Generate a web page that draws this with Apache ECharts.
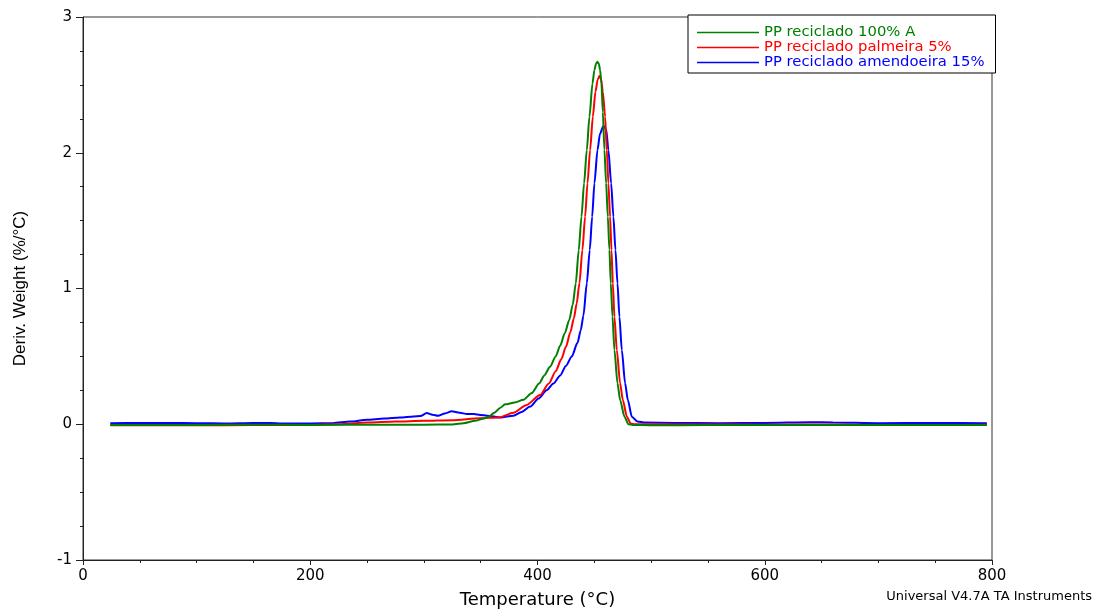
<!DOCTYPE html>
<html>
<head>
<meta charset="utf-8">
<script src="https://cdn.jsdelivr.net/npm/echarts@6/dist/echarts.min.js"></script>
<style>html,body{margin:0;padding:0;background:#fff}#c{width:1096px;height:611px}</style>
</head>
<body>
<div id="c"></div>
<script>
var seriesNames = ['PP reciclado 100% A', 'PP reciclado palmeira 5%', 'PP reciclado amendoeira 15%'];
var seriesColors = ['#008000', '#ff0000', '#0000ff'];

var tempGreen = [24,50,100,150,200,250,300,325,335,345,352,357,362,367,371.5,380,387.6,395,401.4,406,411,416,420,424,428,431,433.7,436.3,438.7,441,443.4,445.7,448.4,450.1,451.5,452.7,454,455.1,456.3,457.5,458.9,460.4,461.9,463.3,464.5,466,467.7,470.4,472.7,476.5,480,484,500,550,600,650,700,750,795.5];
var valGreen  = [-0.005,-0.005,-0.005,-0.003,-0.005,-0.004,-0.003,-0.002,0.008,0.025,0.04,0.055,0.085,0.12,0.147,0.16,0.18,0.23,0.3,0.36,0.424,0.5,0.58,0.67,0.77,0.88,1.038,1.284,1.529,1.775,2.02,2.266,2.51,2.61,2.655,2.67,2.655,2.61,2.51,2.3,2.02,1.775,1.529,1.284,1.038,0.792,0.547,0.302,0.179,0.056,0.0,-0.005,-0.007,-0.006,-0.006,-0.005,-0.005,-0.005,-0.005];

var tempRed = [24,50,100,150,200,225,250,275,300,325,349.5,366,378.8,390,402.3,410,416,421,425,429,432,434.5,436.9,439.5,441.9,444,446.3,448.7,451,453,454.5,456,457.5,459.5,461,462.4,463.9,465.1,466.3,467.7,469.8,472.7,475.1,478.6,482.1,486,500,550,600,650,700,750,795.5];
var valRed  = [-0.008,-0.008,-0.007,-0.006,-0.005,0.0,0.012,0.02,0.025,0.03,0.045,0.05,0.085,0.14,0.215,0.3,0.39,0.48,0.57,0.68,0.78,0.89,1.038,1.284,1.529,1.775,2.02,2.266,2.45,2.54,2.565,2.54,2.45,2.266,2.02,1.775,1.529,1.284,1.038,0.792,0.547,0.302,0.179,0.056,0.005,0.0,0.0,-0.002,-0.003,-0.002,-0.005,-0.005,-0.004];

var tempBlue = [24,50,75,100,125,150,165,175,200,220,235,250,265,279,291,297,302.5,307.5,312.5,318.5,324.5,331.5,338,344,349.5,355.5,367.5,378.8,386,393.5,401,408,414,420,425,430.2,435.2,438,440.4,443.4,446,448.1,450.1,452.8,455,458,460.5,462.4,464.8,466.8,468.6,470.4,472.1,474.2,477.1,479.5,483,488,495,520,560,600,640,660,700,750,795.5];
var valBlue  = [0.008,0.01,0.01,0.008,0.006,0.01,0.01,0.005,0.006,0.008,0.02,0.033,0.042,0.05,0.058,0.06,0.083,0.07,0.063,0.08,0.095,0.085,0.075,0.075,0.068,0.063,0.05,0.063,0.09,0.13,0.19,0.25,0.3,0.36,0.43,0.5,0.6,0.69,0.8,1.038,1.284,1.529,1.775,2.02,2.14,2.197,2.17,2.02,1.775,1.529,1.284,1.038,0.792,0.547,0.302,0.179,0.056,0.02,0.012,0.01,0.008,0.01,0.015,0.013,0.008,0.01,0.008];

var xTicks = [0, 200, 400, 600, 800];
var yTicks = [-1, 0, 1, 2, 3];

function zip(a, b) { return a.map(function (t, i) { return [t, b[i]]; }); }
var allData = [zip(tempGreen, valGreen), zip(tempRed, valRed), zip(tempBlue, valBlue)];

var FONT = "'DejaVu Sans', sans-serif";
var FONT_Y = "'Liberation Sans', Arial, sans-serif";
var chart = echarts.init(document.getElementById('c'), null, {renderer: 'canvas'});
chart.setOption({
  animation: false,
  backgroundColor: '#ffffff',
  textStyle: {fontFamily: FONT},
  grid: {left: 83, right: 104, top: 17, bottom: 51, outerBoundsMode: 'none', containLabel: false,
         show: true, borderColor: '#333', borderWidth: 1, backgroundColor: 'transparent'},
  legend: {
    left: 688, top: 15, orient: 'vertical',
    padding: [10, 11, 3, 9], itemGap: 0,
    itemWidth: 62, itemHeight: 1.5, itemTextGap: 14, icon: 'rect',
    borderColor: '#000', borderWidth: 1, backgroundColor: '#fff',
    data: seriesNames.map(function (n, i) {
      return {name: n, textStyle: {color: seriesColors[i], fontSize: 14.8, lineHeight: 15, fontFamily: FONT}};
    })
  },
  xAxis: {
    type: 'value', min: xTicks[0], max: xTicks[xTicks.length - 1], interval: 200,
    name: 'Temperature (°C)', nameLocation: 'middle', nameGap: 31,
    nameTextStyle: {fontSize: 18, color: '#000', fontFamily: FONT},
    axisLine: {onZero: false, lineStyle: {color: '#222', width: 1}},
    axisTick: {show: true, inside: false, length: 5, lineStyle: {color: '#222'}},
    minorTick: {show: true, splitNumber: 4, length: 3, lineStyle: {color: '#222'}},
    axisLabel: {fontSize: 15, color: '#000', margin: 9, fontFamily: FONT},
    splitLine: {show: false}
  },
  yAxis: {
    type: 'value', min: yTicks[0], max: yTicks[yTicks.length - 1], interval: 1,
    name: 'Deriv. Weight (%/°C)', nameLocation: 'middle', nameGap: 54, nameRotate: 90,
    nameTextStyle: {fontSize: 17, color: '#000', fontFamily: FONT_Y},
    axisLine: {onZero: false, lineStyle: {color: '#222', width: 1}},
    axisTick: {show: true, inside: false, length: 7, lineStyle: {color: '#222'}},
    minorTick: {show: true, splitNumber: 4, length: 3, lineStyle: {color: '#222'}},
    axisLabel: {fontSize: 15, color: '#000', margin: 11, fontFamily: FONT},
    splitLine: {show: false}
  },
  graphic: [{
    type: 'text', right: 4, top: 590,
    style: {text: 'Universal V4.7A TA Instruments', fontSize: 13, fill: '#000', fontFamily: FONT}
  }],
  series: allData.map(function (d, i) {
    return {
      name: seriesNames[i], type: 'line', data: d, showSymbol: false,
      smooth: 0.25, smoothMonotone: 'x',
      color: seriesColors[i],
      lineStyle: {color: seriesColors[i], width: 2},
      z: 3 - i
    };
  })
});
</script>
</body>
</html>
